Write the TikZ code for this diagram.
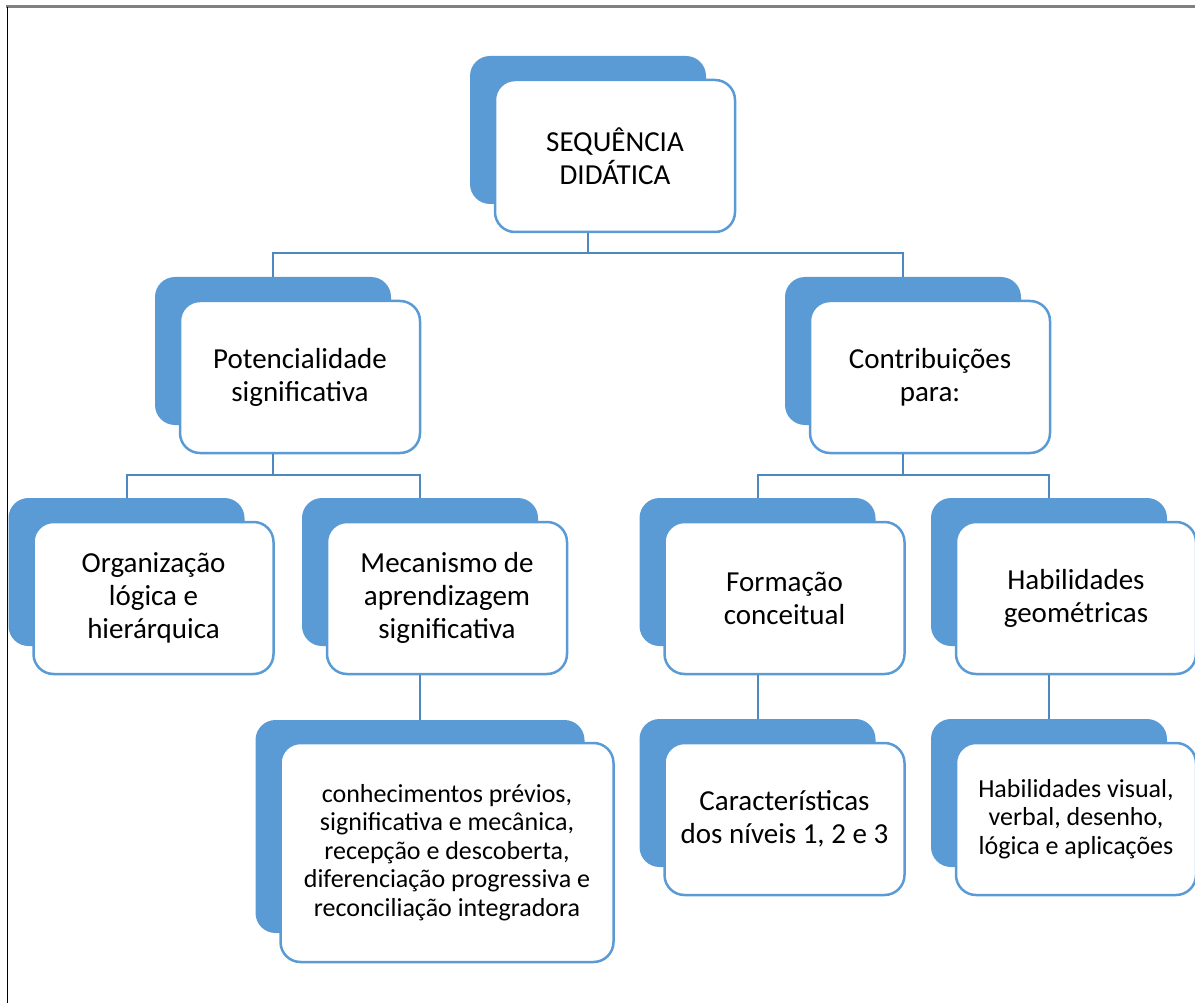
\documentclass[tikz,border=0pt]{standalone}
\usepackage{fontspec}
\setmainfont{Carlito}
\usepackage{tikz}
\usetikzlibrary{positioning}
\definecolor{boxblue}{RGB}{91, 155, 213}
\definecolor{linkblue}{RGB}{78, 136, 192}
\definecolor{framegray}{RGB}{128, 128, 128}
\newcommand{\boxfont}{\fontsize{29}{33}\selectfont}
\newcommand{\smallboxfont}{\fontsize{26}{28.5}\selectfont}

\begin{document}
\begin{tikzpicture}[
   x=1pt, y=-1pt,
   backbox/.style={rectangle, rounded corners=20, fill=boxblue, draw=none,
               inner sep=0, minimum width=236, minimum height=148},
   frontbox/.style={rectangle, rounded corners=20, fill=white, draw=boxblue,
               line width=2.5, text=black, align=center, font=\boxfont,
               inner sep=0, minimum width=240, minimum height=152},
   link/.style={draw=linkblue, line width=2}
  ]

  % Offset of the back boxes
  \pgfmathsetmacro{\dx}{27}
  \pgfmathsetmacro{\dy}{26}

  \useasboundingbox (0, 0) rectangle (1195, 1003);
  \draw[framegray, line width=3] (6, 7) -- (1195, 7);
  \draw[black, line width=1] (7, 7) -- (7, 1003);

  % back boxes
  \foreach \N/\X/\Y in {seq/615/156, pot/300/377, con/930/377,
                        org/153.5/598, mec/447/598, form/784.5/598, hgeo/1076/598,
                        car/784.5/819, hvis/1076/819} {
    \node (\N b) at (\X - \dx, \Y - \dy) [backbox] {};
  }
  \node (conhb) at (447 - \dx, 852.5 - \dy) [backbox, minimum width=329, minimum height=213] {};

  % front boxes
  \node (seq) at (615, 156) [frontbox] {SEQUÊNCIA\\DIDÁTICA};

  \node (pot) at (300, 377) [frontbox] {Potencialidade\\significativa};
  \node (con) at (930, 377) [frontbox] {Contribuições\\para:};

  \node (org) at (153.5, 598) [frontbox] {Organização\\lógica e\\hierárquica};
  \node (mec) at (447, 598) [frontbox] {Mecanismo de\\aprendizagem\\significativa};
  \node (form) at (784.5, 598) [frontbox] {Formação\\conceitual};
  \node (hgeo) at (1076, 598) [frontbox] {Habilidades\\geométricas};

  \node (conh) at (447, 852.5) [frontbox, minimum width=333, minimum height=219,
        font=\smallboxfont] {conhecimentos prévios,\\significativa e mecânica,\\recepção e descoberta,\\diferenciação progressiva e\\reconciliação integradora};
  \node (car) at (784.5, 819) [frontbox] {Características\\dos níveis 1, 2 e 3};
  \node (hvis) at (1076, 819) [frontbox, font=\smallboxfont] {Habilidades visual,\\verbal, desenho,\\lógica e aplicações};

  % connectors
  \foreach \P/\C/\Y in {seq/pot/253, seq/con/253, pot/org/475, pot/mec/475,
                        con/form/475, con/hgeo/475, mec/conh/697, form/car/697,
                        hgeo/hvis/697} {
    \draw[link] (\P b |- \P.south) -- (\P b |- 0, \Y) -| (\C b.north);
  }

\end{tikzpicture}
\end{document}
